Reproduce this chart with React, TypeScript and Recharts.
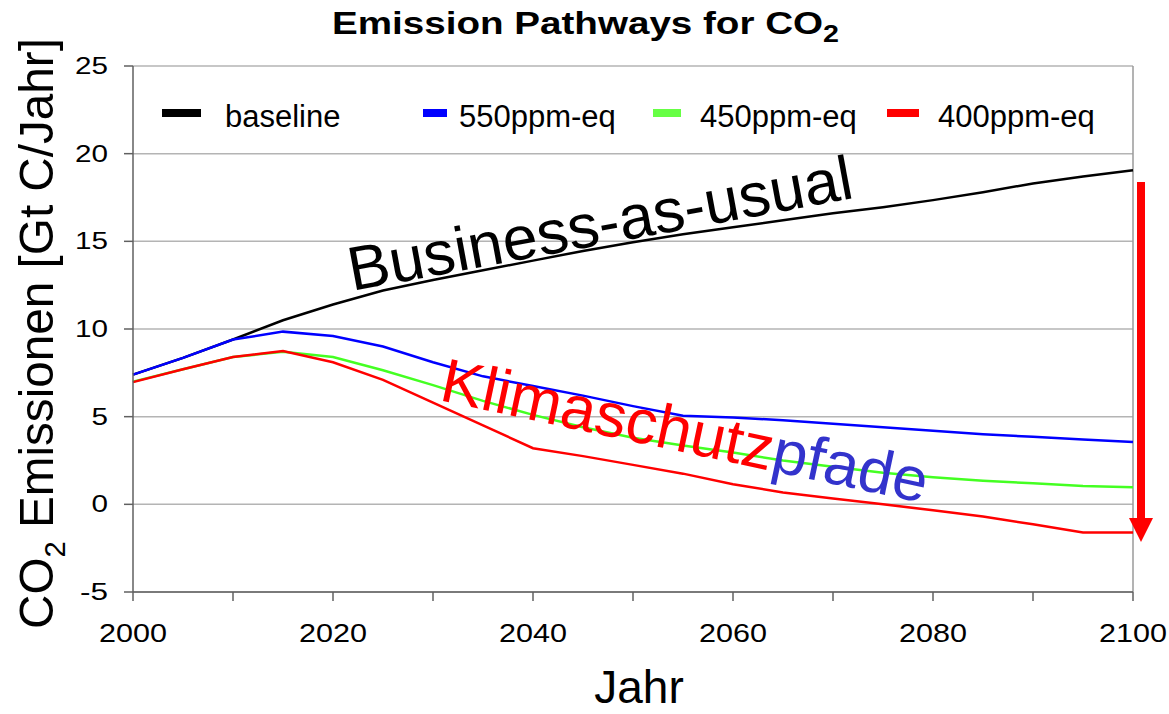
import React from 'react';
import { LineChart, Line, XAxis, YAxis, CartesianGrid, ReferenceLine } from 'recharts';

const years = [2000, 2005, 2010, 2015, 2020, 2025, 2030, 2035, 2040, 2045, 2050, 2055, 2060, 2065, 2070, 2075, 2080, 2085, 2090, 2095, 2100];
const baseline = [7.4, 8.35, 9.4, 10.5, 11.4, 12.2, 12.8, 13.35, 13.9, 14.45, 14.95, 15.4, 15.8, 16.2, 16.6, 16.95, 17.35, 17.8, 18.3, 18.7, 19.05];
const s550 = [7.4, 8.35, 9.4, 9.85, 9.6, 9.0, 8.1, 7.3, 6.75, 6.2, 5.6, 5.05, 4.95, 4.8, 4.6, 4.4, 4.2, 4.0, 3.85, 3.7, 3.55];
const s450 = [7.0, 7.7, 8.4, 8.7, 8.4, 7.65, 6.8, 5.9, 5.1, 4.4, 3.8, 3.35, 2.95, 2.5, 2.15, 1.8, 1.55, 1.35, 1.2, 1.05, 0.97];
const s400 = [6.97, 7.7, 8.4, 8.75, 8.1, 7.1, 5.8, 4.5, 3.2, 2.75, 2.25, 1.75, 1.15, 0.68, 0.33, 0.0, -0.34, -0.7, -1.14, -1.6, -1.6];

const xTicks = [2000, 2010, 2020, 2030, 2040, 2050, 2060, 2070, 2080, 2090, 2100];
const xLabelTicks = [2000, 2020, 2040, 2060, 2080, 2100];
const yTicks = [-5, 0, 5, 10, 15, 20, 25];

const seriesKeys = ['baseline', 's550', 's450', 's400'];
const seriesNames = ['baseline', '550ppm-eq', '450ppm-eq', '400ppm-eq'];
const seriesColors = ['#000000', '#0000ff', '#44ff22', '#ff0000'];
const legendColors = ['#000000', '#0000ff', '#66ff44', '#ff0000'];

// legend layout (positions only)
const legendLayout = [
  { sx: 162, sw: 39, tx: 225 },
  { sx: 423, sw: 24, tx: 459 },
  { sx: 653, sw: 28, tx: 700 },
  { sx: 887, sw: 32, tx: 938 },
];

const data = years.map((y, i) => ({
  year: y,
  baseline: baseline[i],
  s550: s550[i],
  s450: s450[i],
  s400: s400[i],
}));

const FONT = 'Arial, "Liberation Sans", Helvetica, sans-serif';

const XTick = (props: any) => {
  const { x, y, payload } = props;
  if (!xLabelTicks.includes(payload.value)) return null;
  return (
    <text x={x} y={y + 21} textAnchor="middle" fontFamily={FONT} fontSize={26} fill="#000"
      textLength={68} lengthAdjust="spacingAndGlyphs">
      {String(payload.value)}
    </text>
  );
};

const YTick = (props: any) => {
  const { x, y, payload } = props;
  const s = String(payload.value);
  const len = s === '-5' ? 28 : s.length * 16.5;
  return (
    <text x={x} y={y + 8} textAnchor="end" fontFamily={FONT} fontSize={23} fill="#000"
      textLength={len} lengthAdjust="spacingAndGlyphs">
      {s}
    </text>
  );
};

export default function App() {
  return (
    <div style={{ position: 'absolute', left: 0, top: 0, width: 1169, height: 714, background: '#fff' }}>
      <LineChart width={1169} height={714} data={data}
        margin={{ top: 66, right: 36, bottom: 62, left: 60 }}>
        <CartesianGrid vertical={false} stroke="#b4b4b4" strokeWidth={1.5} />
        <XAxis dataKey="year" type="number" domain={[2000, 2100]} ticks={xTicks}
          tickSize={9} tickMargin={20} height={60} interval={0}
          axisLine={{ stroke: '#606060', strokeWidth: 1.5 }}
          tickLine={{ stroke: '#606060', strokeWidth: 1.5 }}
          tick={<XTick />} />
        <YAxis type="number" domain={[-5, 25]} ticks={yTicks} width={73}
          tickSize={9} tickMargin={16} interval={0}
          axisLine={{ stroke: '#606060', strokeWidth: 1.5 }}
          tickLine={{ stroke: '#606060', strokeWidth: 1.5 }}
          tick={<YTick />} />
        <ReferenceLine x={2100} stroke="#9a9a9a" strokeWidth={1.5} ifOverflow="extendDomain" />
        {seriesKeys.map((k, i) => (
          <Line key={k} dataKey={k} name={seriesNames[i]} type="linear" stroke={seriesColors[i]}
            strokeWidth={2.5} dot={false} activeDot={false} isAnimationActive={false} />
        ))}
      </LineChart>
      <svg width={1169} height={714} style={{ position: 'absolute', left: 0, top: 0, pointerEvents: 'none' }}>
        {/* title */}
        <text x={332} y={34} fontFamily={FONT} fontSize={31} fontWeight="bold" fill="#000"
          textLength={507} lengthAdjust="spacingAndGlyphs">
          Emission Pathways for CO<tspan fontSize={23} dy={8}>2</tspan>
        </text>
        {/* y axis label */}
        <text x={0} y={0} transform="translate(53,629) rotate(-90)" fontFamily={FONT} fontSize={49} fill="#000"
          textLength={591} lengthAdjust="spacingAndGlyphs">
          CO<tspan fontSize={30} dy={12}>2</tspan><tspan dy={-12}> Emissionen [Gt C/Jahr]</tspan>
        </text>
        {/* x axis label */}
        <text x={639} y={703} textAnchor="middle" fontFamily={FONT} fontSize={46} fill="#000">Jahr</text>
        {/* legend */}
        {legendLayout.map((l, i) => (
          <g key={i}>
            <rect x={l.sx} y={109} width={l.sw} height={8} fill={legendColors[i]} />
            <text x={l.tx} y={127} fontFamily={FONT} fontSize={31} fill="#000">{seriesNames[i]}</text>
          </g>
        ))}
        {/* annotations */}
        <text x={0} y={0} transform="translate(352,291) rotate(-10.5)" fontFamily={FONT} fontSize={62} fill="#000"
          textLength={512} lengthAdjust="spacingAndGlyphs">
          Business-as-usual
        </text>
        <text x={0} y={0} transform="translate(438,400) rotate(12)" fontFamily={FONT} fontSize={62}
          textLength={496} lengthAdjust="spacingAndGlyphs">
          <tspan fill="#ff0000">Klimaschutz</tspan><tspan fill="#3333cc">pfade</tspan>
        </text>
        {/* arrow */}
        <rect x={1137} y={182} width={8} height={340} fill="#ff0000" />
        <polygon points="1129,518 1153,518 1141,542" fill="#ff0000" />
      </svg>
    </div>
  );
}
